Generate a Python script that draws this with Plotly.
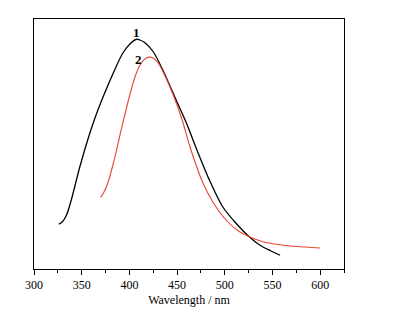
import plotly.graph_objects as go

# Curve 1 (black)
wl1 = [326, 330, 334, 339, 348, 357, 364, 371, 383, 393, 401, 407.5, 411, 416, 425, 435, 449, 460, 470, 484, 498, 512, 525, 537, 548, 558]
int1 = [17.9, 19.0, 21.5, 27.5, 40.8, 52.5, 60.5, 67.5, 78.3, 86.3, 90.2, 91.9, 91.6, 90.6, 86.9, 79.6, 67.6, 58.2, 48.4, 35.5, 24.8, 18.2, 13.1, 9.5, 7.3, 5.5]

# Curve 2 (red)
wl2 = [369.7, 373, 377, 383, 391, 400, 406, 411, 417, 423, 430, 437, 446, 455, 463, 470, 477, 488, 502, 514, 527, 540, 558, 575, 600]
int2 = [28.6, 30.5, 34.0, 42.0, 55.0, 69.0, 77.0, 81.5, 84.2, 84.7, 82.5, 77.5, 69.6, 60.0, 49.5, 41.5, 34.5, 26.5, 19.3, 15.3, 12.7, 10.9, 9.7, 9.0, 8.4]

x_ticks = [300, 350, 400, 450, 500, 550, 600]

fig = go.Figure()
fig.add_trace(go.Scatter(x=wl1, y=int1, mode="lines", line=dict(color="black", width=1.3, shape="spline", smoothing=0.8), showlegend=False))
fig.add_trace(go.Scatter(x=wl2, y=int2, mode="lines", line=dict(color="#e8452c", width=1.1, shape="spline", smoothing=0.8), showlegend=False))

fig.add_annotation(x=407.5, y=94.5, text="<b>1</b>", showarrow=False, font=dict(family="Liberation Serif", size=13, color="black"))
fig.add_annotation(x=410, y=84, text="<b>2</b>", showarrow=False, font=dict(family="Liberation Serif", size=13, color="black"))

# page body has an 8px default margin, compensate in the figure margins
fig.update_layout(
    width=399, height=323,
    margin=dict(l=26, r=63, t=11, b=62),
    paper_bgcolor="white", plot_bgcolor="white",
    font=dict(family="Liberation Serif", size=12, color="black"),
    xaxis=dict(range=[300, 625], tickvals=x_ticks, ticks="outside", ticklen=5, tickwidth=1, tickcolor="black",
               minor=dict(dtick=25, ticks="outside", ticklen=3, tickcolor="black", showgrid=False),
               showline=True, linecolor="black", linewidth=1, mirror=True, showgrid=False, zeroline=False,
               title=dict(text="Wavelength / nm", font=dict(size=12, color="black"), standoff=4),
               tickfont=dict(size=12, color="black")),
    yaxis=dict(range=[0, 100], showticklabels=False, ticks="", showline=True, linecolor="black", linewidth=1,
               mirror=True, showgrid=False, zeroline=False),
)

fig.write_html("out.html")
